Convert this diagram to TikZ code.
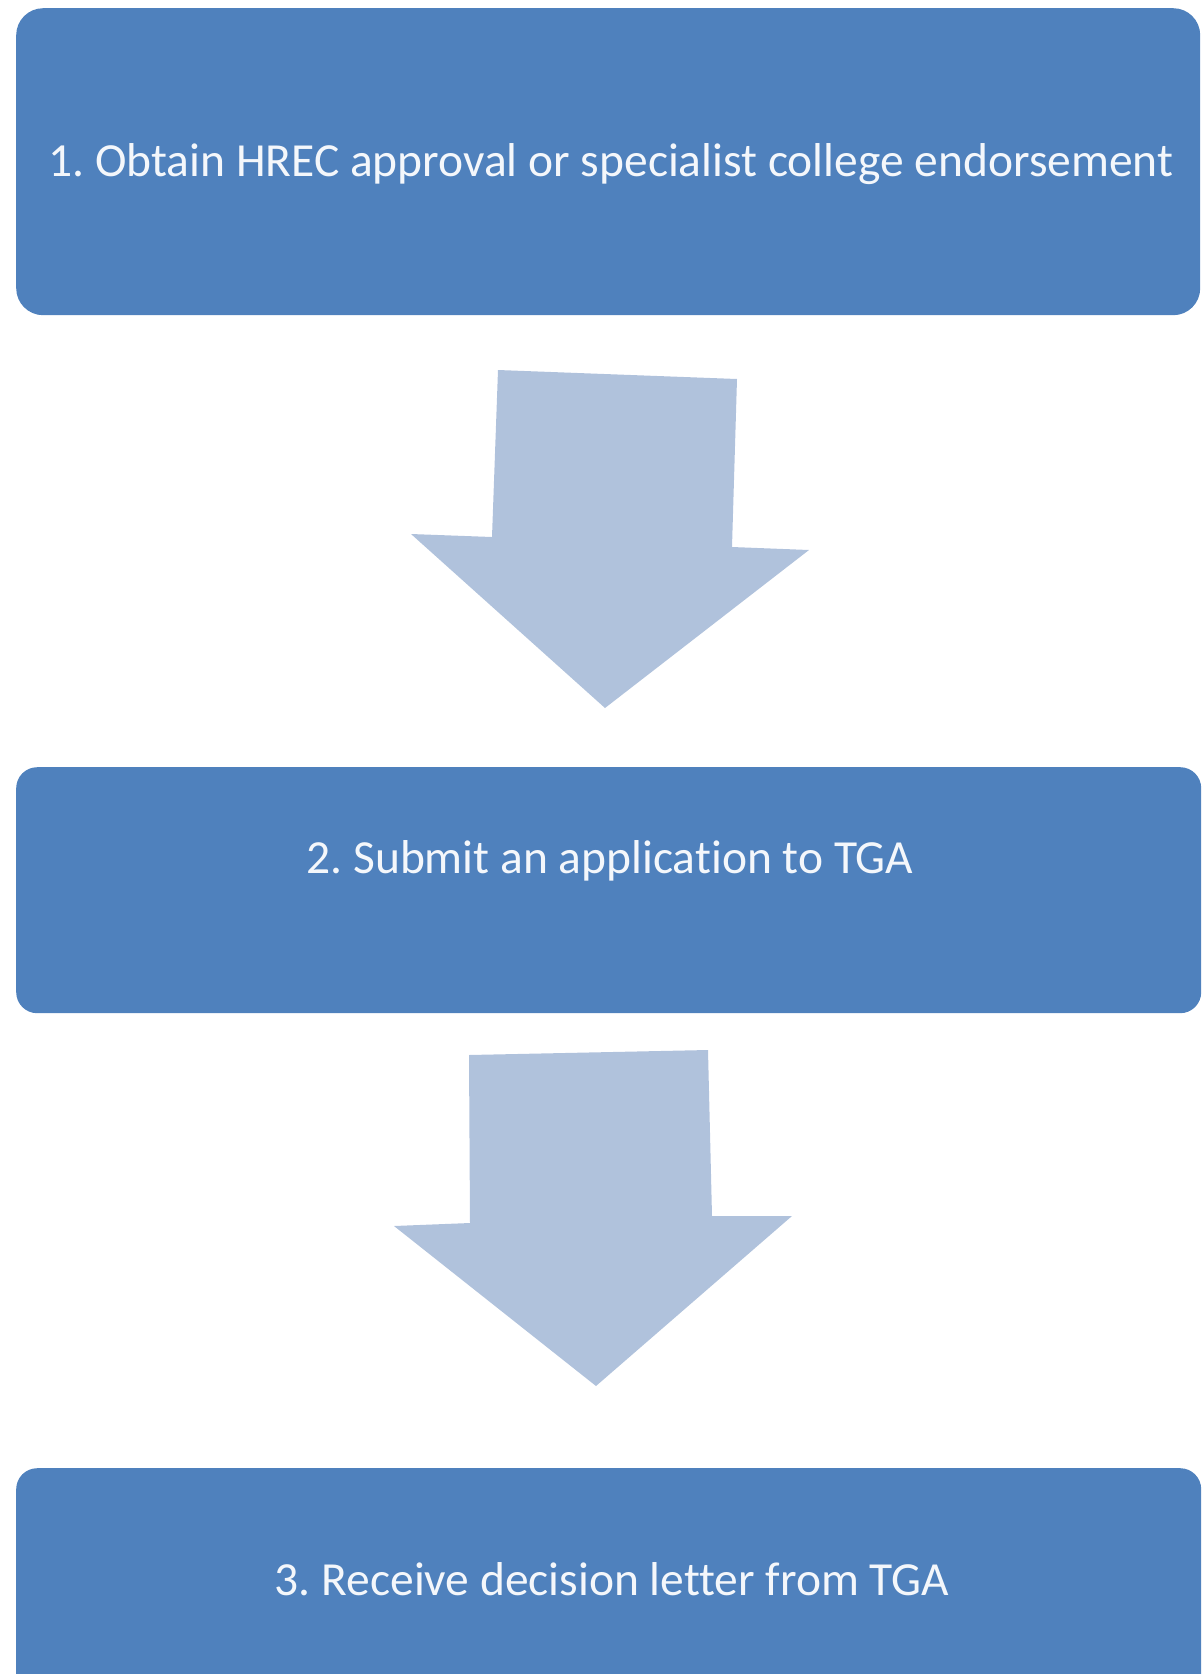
\documentclass[tikz,border=0pt]{standalone}
\usepackage{fontspec}
\setmainfont[Ligatures={NoCommon,NoContextual}]{Carlito}
\definecolor{boxblue}{HTML}{4F81BD}
\definecolor{arrowblue}{HTML}{B0C2DC}
\definecolor{txtwhite}{HTML}{F4F7FB}
\frenchspacing
\begin{document}
\begin{tikzpicture}[x=1pt,y=-1pt,
  boxstyle/.style={fill=boxblue, draw=none, inner sep=0pt, anchor=north west},
  labelstyle/.style={text=txtwhite, anchor=base, inner sep=0pt, font=\fontsize{47.5}{56}\selectfont},
  blockarrow/.style={fill=arrowblue, draw=none}]
\useasboundingbox (0,0) rectangle (1203,1674);
\clip (0,0) rectangle (1203,1674);
% boxes
\node[boxstyle, rounded corners=27pt, minimum width=1184pt, minimum height=307pt] (b1) at (16,8) {};
\node[boxstyle, rounded corners=21pt, minimum width=1185pt, minimum height=246pt] (b2) at (16,767) {};
\node[boxstyle, rounded corners=21pt, minimum width=1185pt, minimum height=260pt] (b3) at (16,1468) {};
% labels
\node[labelstyle] (t1) at (611,176) {1. Obtain HREC approval or specialist college endorsement};
\node[labelstyle] (t2) at (610,873) {2. Submit an application to TGA};
\node[labelstyle] (t3) at (612,1595) {3. Receive decision letter from TGA};
% block arrows
\coordinate (a1s) at (498,370);
\coordinate (a1t) at (605,708);
\fill[blockarrow] (a1s) -- (737,379) -- (732,547) -- (809,550) -- (a1t) -- (411,534) -- (492,537) -- cycle;
\coordinate (a2s) at (469,1055);
\coordinate (a2t) at (596,1386);
\fill[blockarrow] (a2s) -- (708,1050) -- (712,1216) -- (792,1216) -- (a2t) -- (394,1226) -- (470,1223) -- cycle;
\end{tikzpicture}
\end{document}
